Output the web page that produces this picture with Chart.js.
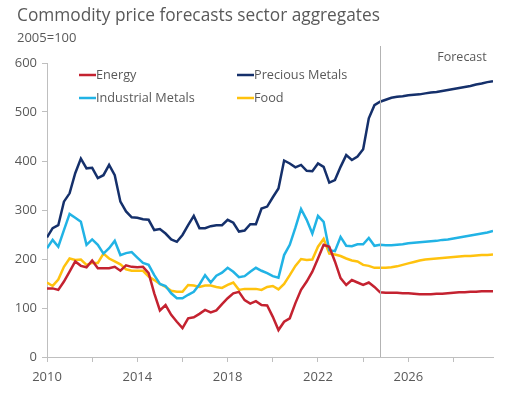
<!DOCTYPE html>
<html>
<head>
<meta charset="utf-8">
<script src="https://cdn.jsdelivr.net/npm/chart.js@4/dist/chart.umd.min.js"></script>
<style>
  html, body { margin: 0; padding: 0; background: #ffffff; }
  #wrap { position: relative; width: 513px; height: 394px; }
</style>
</head>
<body>
<div id="wrap"><canvas id="chart" width="513" height="394"></canvas></div>
<script>
// Quarterly index values, 2005=100. History 2010Q1-2024Q4, forecast 2025Q1-2029Q4
const startYear = 2010;
const forecastStart = 2024.75;

const energy = [
    140, 140, 137, 154, 174, 195, 186, 183, 197, 181, 181, 181, 184, 176, 187, 184,
    183, 184, 171, 130, 95, 106, 86, 72, 59, 79, 81, 88, 96, 91, 95, 108,
    120, 130, 133, 116, 109, 114, 106, 105, 82, 55, 72, 79, 110, 137, 154, 174,
    201, 229, 225, 195, 161, 147, 157, 152, 147, 152, 143, 132,
    131, 131, 131, 130, 130, 129, 128, 128, 128, 129, 129, 130, 131, 132, 132, 133, 133, 134, 134, 134
];
const preciousMetals = [
    244, 263, 269, 317, 334, 375, 405, 385, 386, 365, 371, 392, 371, 317, 297, 285,
    284, 281, 280, 259, 261, 252, 240, 235, 249, 269, 288, 263, 263, 267, 269, 269,
    280, 274, 256, 258, 271, 271, 303, 307, 326, 344, 401, 395, 387, 392, 380, 379,
    395, 388, 356, 361, 388, 412, 402, 409, 424, 487, 514, 521,
    525, 529, 531, 532, 534, 535, 536, 538, 540, 541, 543, 545, 547, 549, 551, 553, 556, 558, 561, 563
];
const industrialMetals = [
    222, 239, 225, 259, 292, 284, 276, 229, 240, 229, 211, 222, 237, 208, 212, 214,
    203, 192, 188, 167, 149, 145, 130, 120, 120, 127, 133, 148, 167, 152, 166, 172,
    182, 174, 163, 165, 174, 182, 176, 171, 165, 162, 208, 229, 264, 302, 280, 252,
    288, 276, 218, 216, 245, 227, 226, 230, 230, 243, 227, 229,
    228, 228, 229, 230, 232, 233, 234, 235, 236, 237, 239, 240, 242, 244, 246, 248, 250, 252, 254, 257
];
const food = [
    152, 145, 158, 184, 201, 198, 199, 188, 192, 192, 211, 201, 195, 189, 179, 176,
    176, 176, 164, 157, 149, 143, 135, 133, 133, 147, 146, 143, 146, 146, 143, 141,
    147, 152, 137, 139, 139, 139, 137, 143, 145, 138, 149, 167, 186, 200, 198, 199,
    225, 241, 211, 209, 206, 201, 197, 195, 188, 186, 182, 182,
    182, 183, 185, 188, 191, 194, 197, 199, 200, 201, 202, 203, 204, 205, 206, 206, 207, 208, 208, 209
];

const seriesNames = ['Energy', 'Precious Metals', 'Industrial Metals', 'Food'];
const seriesValues = [energy, preciousMetals, industrialMetals, food];
const seriesColors = ['#c42230', '#15306b', '#21b3e5', '#ffc20e'];
const yTicks = [0, 100, 200, 300, 400, 500, 600];

const FONT = '"Open Sans", "Noto Sans", sans-serif';
const GREY = '#595959';

function toPoints(values) {
    return values.map((v, i) => ({ x: startYear + i / 4, y: v }));
}

// title, subtitle, forecast marker and legend drawn straight on the canvas
const decorPlugin = {
    id: 'decor',
    afterDraw(chart) {
        const ctx = chart.ctx;
        const x = chart.scales.x;
        const area = chart.chartArea;
        ctx.save();
        ctx.fillStyle = GREY;
        ctx.textBaseline = 'middle';
        ctx.font = '17.3px ' + FONT;
        ctx.fillText('Commodity price forecasts sector aggregates', 17, 16);
        ctx.font = '13px ' + FONT;
        ctx.fillText('2005=100', 17, 38);

        // forecast divider
        const fx = Math.round(x.getPixelForValue(forecastStart)) + 0.5;
        ctx.strokeStyle = '#b3b3b3';
        ctx.lineWidth = 1;
        ctx.beginPath();
        ctx.moveTo(fx, 46);
        ctx.lineTo(fx, area.bottom);
        ctx.stroke();
        ctx.font = '12.5px ' + FONT;
        ctx.textAlign = 'center';
        ctx.fillText('Forecast', 462, 57);

        // legend, two columns
        const cols = [79, 237];
        const rows = [75, 98];
        ctx.font = '12.7px ' + FONT;
        ctx.textAlign = 'left';
        seriesNames.forEach((name, n) => {
            const lx = cols[n % 2];
            const ly = rows[Math.floor(n / 2)];
            ctx.strokeStyle = seriesColors[n];
            ctx.lineWidth = 2.5;
            ctx.beginPath();
            ctx.moveTo(lx, ly);
            ctx.lineTo(lx + 17, ly);
            ctx.stroke();
            ctx.fillStyle = GREY;
            ctx.fillText(name, lx + 17, ly);
        });
        ctx.restore();
    }
};

const datasets = seriesNames.map((name, k) => ({
    label: name,
    data: toPoints(seriesValues[k]),
    borderColor: seriesColors[k],
    backgroundColor: seriesColors[k],
    borderWidth: 2.5,
    pointRadius: 0,
    tension: 0,
    fill: false
}));

new Chart(document.getElementById('chart'), {
    type: 'line',
    data: { datasets: datasets },
    plugins: [decorPlugin],
    options: {
        responsive: false,
        animation: false,
        layout: { padding: { top: 63, right: 20, left: 0, bottom: 0 } },
        plugins: {
            legend: { display: false },
            tooltip: { enabled: false }
        },
        scales: {
            x: {
                type: 'linear',
                min: startYear,
                max: 2029.75,
                afterFit(scale) { scale.height = 37; },
                grid: {
                    drawOnChartArea: false,
                    drawTicks: true,
                    tickLength: 5,
                    color: '#bfbfbf'
                },
                border: { color: '#bfbfbf' },
                ticks: {
                    stepSize: 2,
                    includeBounds: false,
                    maxRotation: 0,
                    autoSkip: false,
                    padding: 7,
                    color: GREY,
                    font: { family: FONT, size: 13 },
                    callback: v => ((v - startYear) % 4 === 0 ? String(v) : '')
                }
            },
            y: {
                min: 0,
                max: 600,
                afterFit(scale) { scale.width = 47; },
                afterBuildTicks(scale) { scale.ticks = yTicks.map(v => ({ value: v })); },
                grid: {
                    drawOnChartArea: false,
                    drawTicks: true,
                    tickLength: 5,
                    color: '#bfbfbf'
                },
                border: { color: '#bfbfbf' },
                ticks: {
                    padding: 5,
                    color: GREY,
                    font: { family: FONT, size: 13 }
                }
            }
        }
    }
});
</script>
</body>
</html>
